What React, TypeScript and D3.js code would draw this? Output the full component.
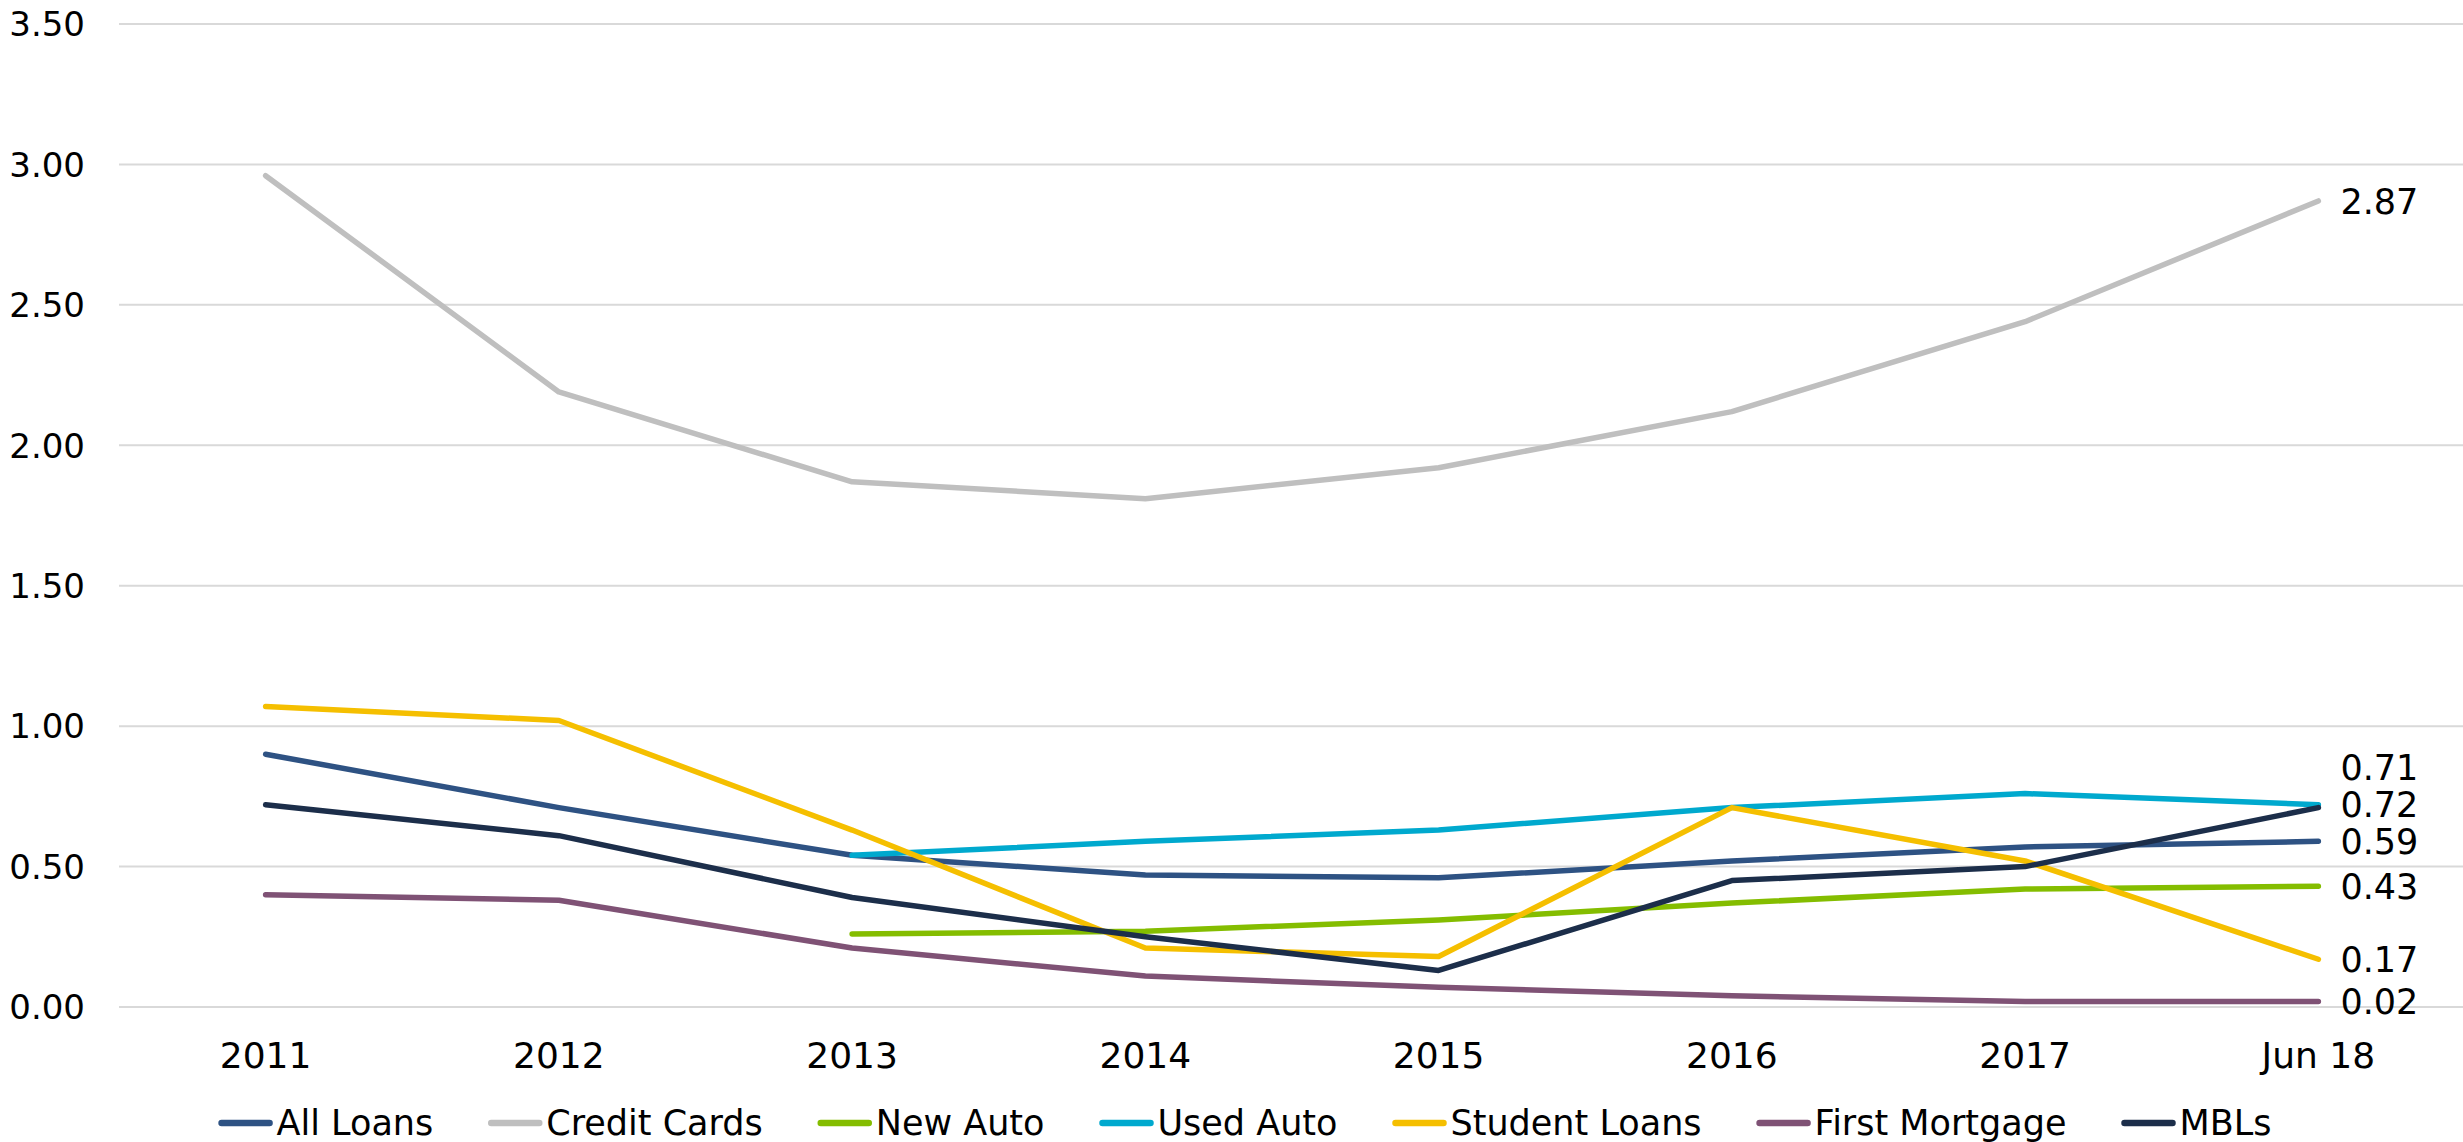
import React, { useEffect, useRef } from "react";
import * as d3 from "d3";

const categories = ["2011", "2012", "2013", "2014", "2015", "2016", "2017", "Jun 18"];
const yTicks = [0, 0.5, 1, 1.5, 2, 2.5, 3, 3.5];

const allLoans = [0.9, 0.71, 0.54, 0.47, 0.46, 0.52, 0.57, 0.59];
const creditCards = [2.96, 2.19, 1.87, 1.81, 1.92, 2.12, 2.44, 2.87];
const newAuto = [null, null, 0.26, 0.27, 0.31, 0.37, 0.42, 0.43];
const usedAuto = [null, null, 0.54, 0.59, 0.63, 0.71, 0.76, 0.72];
const studentLoans = [1.07, 1.02, 0.63, 0.21, 0.18, 0.71, 0.52, 0.17];
const firstMortgage = [0.4, 0.38, 0.21, 0.11, 0.07, 0.04, 0.02, 0.02];
const mbls = [0.72, 0.61, 0.39, 0.25, 0.13, 0.45, 0.5, 0.71];

const seriesNames = ["All Loans", "Credit Cards", "New Auto", "Used Auto", "Student Loans", "First Mortgage", "MBLs"];
const seriesValues = [allLoans, creditCards, newAuto, usedAuto, studentLoans, firstMortgage, mbls];
const seriesColors = ["#2E5283", "#BFBFBF", "#84BD00", "#00A9CE", "#F5BF00", "#7F5275", "#1C2E4A"];
const labelShift = [0, 0, 0, 0, 0, 0, -40];

const W = 2463;
const H = 1142;
const FONT = "'Century Gothic', 'DejaVu Sans', sans-serif";

export default function App() {
  const ref = useRef<SVGSVGElement | null>(null);

  useEffect(() => {
    document.body.style.margin = "0";
    document.body.style.overflow = "hidden";
    const svg = d3.select(ref.current);
    svg.selectAll("*").remove();

    const x = d3.scaleBand().domain(categories).range([119, 2465]);
    const cx = (c: string) => (x(c) as number) + x.bandwidth() / 2;
    const y = d3.scaleLinear().domain([0, 3.5]).range([1007, 24]);

    // gridlines
    svg
      .append("g")
      .selectAll("line")
      .data(yTicks)
      .join("line")
      .attr("x1", 119)
      .attr("x2", W)
      .attr("y1", (d) => y(d))
      .attr("y2", (d) => y(d))
      .attr("stroke", "#D9D9D9")
      .attr("stroke-width", 2);

    // y tick labels
    svg
      .append("g")
      .selectAll("text")
      .data(yTicks)
      .join("text")
      .attr("x", 85)
      .attr("y", (d) => y(d))
      .attr("dy", "0.36em")
      .attr("text-anchor", "end")
      .attr("font-family", FONT)
      .attr("font-size", 34)
      .attr("fill", "#000")
      .text((d) => d3.format(".2f")(d));

    // x labels
    svg
      .append("g")
      .selectAll("text")
      .data(categories)
      .join("text")
      .attr("x", (d) => cx(d))
      .attr("y", 1068)
      .attr("text-anchor", "middle")
      .attr("font-family", FONT)
      .attr("font-size", 36)
      .attr("fill", "#000")
      .text((d) => d);

    // lines
    const line = d3
      .line<[string, number | null]>()
      .defined((d) => d[1] !== null)
      .x((d) => cx(d[0]))
      .y((d) => y(d[1] as number));

    const gLines = svg.append("g");
    seriesNames.forEach((name, i) => {
      const pts = categories.map((c, j) => [c, seriesValues[i][j]] as [string, number | null]);
      gLines
        .append("path")
        .attr("d", line(pts) as string)
        .attr("fill", "none")
        .attr("stroke", seriesColors[i])
        .attr("stroke-width", 5.5)
        .attr("stroke-linejoin", "round")
        .attr("stroke-linecap", "round");
    });

    // end labels
    const gLab = svg.append("g");
    seriesNames.forEach((name, i) => {
      const last = categories.length - 1;
      const v = seriesValues[i][last] as number;
      gLab
        .append("text")
        .attr("x", cx(categories[last]) + 22)
        .attr("y", y(v) + labelShift[i])
        .attr("dy", "0.36em")
        .attr("font-family", FONT)
        .attr("font-size", 35)
        .attr("fill", "#000")
        .text(d3.format(".2f")(v));
    });

    // legend
    const gLeg = svg.append("g");
    let cursor = 0;
    const gap = 55;
    seriesNames.forEach((name, i) => {
      const g = gLeg.append("g").attr("transform", `translate(${cursor},0)`);
      g.append("line")
        .attr("x1", 3)
        .attr("x2", 51)
        .attr("y1", 1123)
        .attr("y2", 1123)
        .attr("stroke", seriesColors[i])
        .attr("stroke-width", 6.5)
        .attr("stroke-linecap", "round");
      const t = g
        .append("text")
        .attr("x", 58)
        .attr("y", 1135)
        .attr("font-family", FONT)
        .attr("font-size", 35)
        .attr("fill", "#000")
        .text(name);
      const tw = (t.node() as SVGTextElement).getComputedTextLength();
      cursor += 58 + tw + (i < seriesNames.length - 1 ? gap : 0);
    });
    const legendCenter = 1248;
    gLeg.attr("transform", `translate(${legendCenter - cursor / 2 - 3},0)`);
  }, []);

  return (
    <svg
      ref={ref}
      width={W}
      height={H}
      style={{ position: "absolute", left: 0, top: 0, background: "#fff" }}
    />
  );
}
